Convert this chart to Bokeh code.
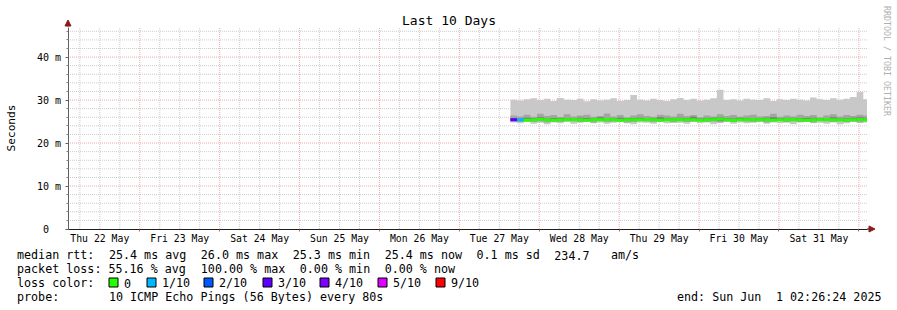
import datetime as dt
import math
import re
from bokeh.plotting import figure
from bokeh.models import (FixedTicker, Label, Arrow, NormalHead, LinearAxis,
                          ColumnDataSource, Range1d)
from bokeh.embed import file_html
from bokeh.resources import INLINE

# ---------------- data ----------------
END = dt.datetime(2025, 6, 1, 2, 26, 24)
START = END - dt.timedelta(days=10)
DAY_LABELS = ["Thu 22 May", "Fri 23 May", "Sat 24 May", "Sun 25 May", "Mon 26 May",
              "Tue 27 May", "Wed 28 May", "Thu 29 May", "Fri 30 May", "Sat 31 May"]
Y_TICKS = [0, 10, 20, 30, 40]
Y_TICK_LABELS = ["0\u00a0\u00a0", "10 m", "20 m", "30 m", "40 m"]

FIRST_BIN = dt.datetime(2025, 5, 27, 15, 20)
BIN_HOURS = 2

# max ping (top of smoke), ms
rtt_max = [30.1, 29.9, 30.2, 30.4, 30.0, 30.3, 29.8, 30.5, 30.1, 30.0,
           30.3, 29.7, 30.2, 29.9, 30.1, 30.4, 29.8, 30.0, 31.2, 30.1,
           29.9, 30.3, 30.0, 29.8, 30.2, 30.5, 30.0, 30.3, 29.9, 30.1,
           30.4, 32.4, 30.0, 30.2, 29.9, 30.3, 30.1, 30.0, 30.4, 29.8,
           30.2, 30.0, 30.3, 30.1, 29.9, 30.6, 30.2, 30.0, 30.4, 30.1,
           30.3, 30.7, 31.9, 30.2]
# min ping (bottom of smoke)
rtt_min = [24.8, 24.6, 24.9, 24.5, 24.7, 24.4, 24.8, 24.6, 24.9, 24.5,
           24.7, 24.9, 24.6, 24.8, 24.5, 24.7, 24.9, 24.6, 24.4, 24.8,
           24.7, 24.5, 24.9, 24.6, 24.8, 24.7, 24.5, 24.9, 24.6, 24.8,
           24.4, 24.7, 24.9, 24.5, 24.8, 24.6, 24.7, 24.9, 24.5, 24.8,
           24.6, 24.7, 24.4, 24.8, 24.9, 24.6, 24.7, 24.5, 24.8, 24.4,
           24.6, 24.9, 24.7, 24.8]
# inner smoke band
rtt_hi2 = [26.4, 26.2, 26.6, 26.1, 26.8, 26.3, 26.5, 26.0, 26.7, 26.2,
           26.4, 26.6, 26.1, 26.3, 26.9, 26.2, 26.5, 26.0, 26.4, 26.7,
           26.3, 26.1, 26.6, 26.4, 26.2, 26.8, 26.3, 26.5, 26.0, 26.4,
           26.2, 26.7, 26.3, 26.5, 26.1, 26.4, 26.6, 26.2, 26.3, 26.8,
           26.1, 26.4, 26.2, 26.6, 26.3, 26.5, 26.0, 26.4, 26.7, 26.2,
           26.5, 26.3, 26.6, 26.4]
rtt_lo2 = [25.0, 24.9, 25.1, 24.9, 25.0, 24.8, 25.0, 24.9, 25.1, 25.0,
           24.9, 25.0, 24.8, 25.1, 24.9, 25.0, 25.0, 24.8, 24.9, 25.1,
           25.0, 24.9, 25.0, 25.1, 24.8, 25.0, 24.9, 25.0, 25.1, 24.9,
           25.0, 24.8, 25.0, 24.9, 25.1, 25.0, 24.9, 25.0, 24.8, 25.0,
           25.1, 24.9, 25.0, 24.9, 25.0, 24.8, 25.1, 25.0, 24.9, 25.0,
           24.9, 25.0, 24.8, 25.0]
# core smoke band
rtt_hi3 = [25.8, 25.7, 25.9, 25.8, 26.0, 25.7, 25.8, 25.9, 25.7, 25.8,
           25.9, 25.8, 25.7, 26.0, 25.8, 25.7, 25.9, 25.8, 25.8, 25.9,
           25.7, 25.8, 26.0, 25.8, 25.7, 25.9, 25.8, 26.1, 25.7, 25.8,
           25.9, 26.0, 25.8, 25.7, 25.9, 25.8, 25.8, 25.7, 25.9, 26.0,
           25.8, 25.7, 25.9, 25.8, 25.8, 25.9, 25.7, 25.8, 26.0, 25.8,
           25.7, 25.9, 26.0, 25.8]
rtt_lo3 = [25.2, 25.2, 25.1, 25.2, 25.3, 25.2, 25.1, 25.2, 25.2, 25.3,
           25.2, 25.1, 25.2, 25.2, 25.3, 25.2, 25.1, 25.2, 25.2, 25.1,
           25.2, 25.3, 25.2, 25.1, 25.2, 25.2, 25.3, 25.2, 25.1, 25.2,
           25.2, 25.1, 25.2, 25.3, 25.2, 25.2, 25.1, 25.2, 25.2, 25.3,
           25.2, 25.1, 25.2, 25.2, 25.3, 25.2, 25.1, 25.2, 25.2, 25.1,
           25.2, 25.2, 25.3, 25.2]
rtt_median = [25.4, 25.4, 25.3, 25.4, 25.5, 25.4, 25.3, 25.4, 25.4, 25.5,
              25.4, 25.3, 25.4, 25.4, 25.5, 25.4, 25.3, 25.4, 25.4, 25.4,
              25.5, 25.4, 25.3, 25.4, 25.4, 25.5, 25.4, 25.4, 25.3, 25.4,
              25.4, 25.6, 25.4, 25.3, 25.4, 25.4, 25.5, 25.4, 25.4, 25.3,
              25.4, 25.4, 25.5, 25.4, 25.3, 25.4, 25.4, 25.5, 25.4, 25.4,
              25.3, 25.4, 25.5, 25.4]
loss_tenths = [3, 1] + [0] * 52

LOSS_LEVELS = [0, 1, 2, 3, 4, 5, 9]
LOSS_NAMES = ["0", "1/10", "2/10", "3/10", "4/10", "5/10", "9/10"]
LOSS_COLORS = ["#26ff00", "#00b8ff", "#0059ff", "#5e00ff", "#7e00ff", "#dd00ff", "#ff0000"]

LEGEND_LINES = [
    "median rtt:  25.4 ms avg  26.0 ms max  25.3 ms min  25.4 ms now  0.1 ms sd  234.7   am/s",
    "packet loss: 55.16 % avg  100.00 % max  0.00 % min  0.00 % now",
]
LOSS_TITLE = "loss color:"
PROBE_TEXT = "probe:       10 ICMP Echo Pings (56 Bytes) every 80s"
END_TEXT = "end: Sun Jun  1 02:26:24 2025"
TITLE = "Last 10 Days"
Y_LABEL = "Seconds"
WATERMARK = "RRDTOOL / TOBI OETIKER"

# ---------------- layout ----------------
W, H = 897, 310
FL, FR, FT, FB = 67, 866, 26, 228      # chart area in pixels
Y_MAX = 47
MONO = "DejaVu Sans Mono"
MAJOR_GRID = "#eeaaaa"
MINOR_GRID = "#cccccc"
LEG_FS = "11.7px"
CW = 7.07                               # advance of one mono character at LEG_FS


def ms(d):
    return (d - dt.datetime(1970, 1, 1)).total_seconds() * 1000.0


x0, x1 = ms(START), ms(END)


def X(px):
    return x0 + (px - FL) * (x1 - x0) / (FR - FL)


def Y(py):
    return (FB - py) * Y_MAX / (FB - FT)


# half-pixel shift so that 1px lines fall on pixel centres
p = figure(width=W, height=H, output_backend="svg", toolbar_location=None, title=None,
           x_range=Range1d(X(-0.5), X(W - 0.5)), y_range=Range1d(Y(H - 0.5), Y(-0.5)),
           x_axis_location=None, y_axis_location=None,
           min_border_left=0, min_border_right=0, min_border_top=0, min_border_bottom=0)
p.outline_line_color = None
p.background_fill_color = "white"
p.border_fill_color = "white"
p.xgrid.visible = False
p.ygrid.visible = False

noons = [ms(dt.datetime(2025, 5, 22, 12) + dt.timedelta(days=i)) for i in range(len(DAY_LABELS))]
midnights = [ms(dt.datetime(2025, 5, 23) + dt.timedelta(days=i)) for i in range(len(DAY_LABELS))]
quarters = [ms(dt.datetime(2025, 5, 22) + dt.timedelta(hours=6 * i)) for i in range(44)]
quarters = [q for q in quarters if x0 < q < x1 and q not in midnights]
y_minor = [v for v in range(2, Y_MAX + 1, 2) if v not in Y_TICKS]

# ---------------- grid (restricted to the chart area) ----------------
p.segment(x0=quarters, x1=quarters, y0=[0] * len(quarters), y1=[Y_MAX] * len(quarters),
          line_color=MINOR_GRID, line_dash="1 1", line_width=1)
p.segment(x0=[x0] * len(y_minor), x1=[x1] * len(y_minor), y0=y_minor, y1=y_minor,
          line_color=MINOR_GRID, line_dash="1 1", line_width=1)
p.segment(x0=midnights, x1=midnights, y0=[0] * len(midnights), y1=[Y_MAX] * len(midnights),
          line_color=MAJOR_GRID, line_dash="1 1", line_width=1)
p.segment(x0=[x0] * 4, x1=[x1] * 4, y0=Y_TICKS[1:], y1=Y_TICKS[1:],
          line_color=MAJOR_GRID, line_dash="1 1", line_width=1)

# ---------------- axes ----------------
xa = LinearAxis(fixed_location=0, bounds=(x0, x1),
                ticker=FixedTicker(ticks=noons, minor_ticks=midnights))
xa.major_label_overrides = {n: lab for n, lab in zip(noons, DAY_LABELS)}
xa.major_tick_out = 0
xa.major_tick_in = 0
xa.minor_tick_out = 2
xa.minor_tick_in = 0
xa.minor_tick_line_color = "#d06060"
xa.axis_line_color = "#202020"
xa.major_label_text_font = MONO
xa.major_label_text_font_size = "9.8px"
xa.major_label_text_color = "#000000"
xa.major_label_standoff = 2
p.add_layout(xa, "below")

ya = LinearAxis(fixed_location=x0, bounds=(0, Y_MAX),
                ticker=FixedTicker(ticks=Y_TICKS, minor_ticks=y_minor))
ya.major_label_overrides = {t: lab for t, lab in zip(Y_TICKS, Y_TICK_LABELS)}
ya.major_tick_out = 3
ya.major_tick_in = 0
ya.minor_tick_out = 2
ya.minor_tick_in = 0
ya.major_tick_line_color = "#606060"
ya.minor_tick_line_color = "#808080"
ya.axis_line_color = "#606060"
ya.major_label_text_font = MONO
ya.major_label_text_font_size = "10px"
ya.major_label_text_color = "#000000"
ya.major_label_standoff = 4
p.add_layout(ya, "left")

# ---------------- smoke ----------------
bin_starts = [ms(FIRST_BIN + dt.timedelta(hours=BIN_HOURS * k)) for k in range(len(rtt_median))]
bin_ends = [min(x1, ms(FIRST_BIN + dt.timedelta(hours=BIN_HOURS * (k + 1))))
            for k in range(len(rtt_median))]
step_x = bin_starts + [bin_ends[-1]]


def ext(a):
    return list(a) + [a[-1]]


src = ColumnDataSource(dict(x=step_x, mx=ext(rtt_max), mn=ext(rtt_min),
                            h2=ext(rtt_hi2), l2=ext(rtt_lo2),
                            h3=ext(rtt_hi3), l3=ext(rtt_lo3)))
p.varea_step(x="x", y1="mn", y2="mx", step_mode="after", source=src, fill_color="#c8c8c8")
p.varea_step(x="x", y1="l2", y2="h2", step_mode="after", source=src, fill_color="#a4a4a4")
p.varea_step(x="x", y1="l3", y2="h3", step_mode="after", source=src, fill_color="#7c7c7c")

color_of = dict(zip(LOSS_LEVELS, LOSS_COLORS))
med_src = ColumnDataSource(dict(x0=bin_starts, x1=bin_ends, y=rtt_median,
                                c=[color_of[l] for l in loss_tenths]))
p.segment(x0="x0", x1="x1", y0="y", y1="y", line_color="c", line_width=3, source=med_src)

# ---------------- arrows ----------------
ARROW_RED = "#8b1a1a"
p.add_layout(Arrow(end=NormalHead(size=6, fill_color=ARROW_RED, line_color=ARROW_RED),
                   x_start=x0, y_start=Y_MAX, x_end=x0, y_end=Y(19),
                   line_color="#606060", line_width=1))
p.add_layout(Arrow(end=NormalHead(size=6, fill_color=ARROW_RED, line_color=ARROW_RED),
                   x_start=x1, y_start=0, x_end=X(874), y_end=0,
                   line_color="#202020", line_width=1))

# ---------------- texts ----------------
p.add_layout(Label(x=X(448), y=Y(19.5), text=TITLE, text_font=MONO, text_font_size="13px",
                   text_align="center", text_baseline="middle", text_color="#000000"))
p.add_layout(Label(x=X(10.5), y=Y(127), text=Y_LABEL, text_font=MONO, text_font_size="11.2px",
                   text_align="center", text_baseline="middle", angle=math.pi / 2,
                   text_color="#000000"))
p.add_layout(Label(x=X(886), y=Y(60), text=WATERMARK, text_font=MONO, text_font_size="8.3px",
                   text_align="center", text_baseline="middle", angle=-math.pi / 2,
                   text_color="#b0b0b0"))


def mono_line(text, left_px, center_py, right_aligned=False):
    """Place a monospace line piece by piece so that runs of blanks keep their width."""
    for m in re.finditer(r"\S+(?: \S+)*", text):
        if right_aligned:
            px = left_px - (len(text) - m.start()) * CW
        else:
            px = left_px + m.start() * CW
        p.add_layout(Label(x=X(px), y=Y(center_py), text=m.group(0), text_font=MONO,
                           text_font_size=LEG_FS, text_align="left", text_baseline="middle",
                           text_color="#000000"))


for i, line in enumerate(LEGEND_LINES):
    mono_line(line, 16, 254 + 14 * i)
mono_line(LOSS_TITLE, 16, 282)
box_px = [108, 146, 203, 262, 319, 377, 435]
p.quad(left=[X(b) for b in box_px], right=[X(b + 9) for b in box_px],
       top=[Y(277)] * len(box_px), bottom=[Y(286)] * len(box_px),
       fill_color=LOSS_COLORS, line_color="black", line_width=1)
for bx, name in zip(box_px, LOSS_NAMES):
    mono_line(name, bx + 15, 282)
mono_line(PROBE_TEXT, 16, 296)
mono_line(END_TEXT, 881, 296, right_aligned=True)

open("out.html", "w").write(file_html(p, INLINE))
